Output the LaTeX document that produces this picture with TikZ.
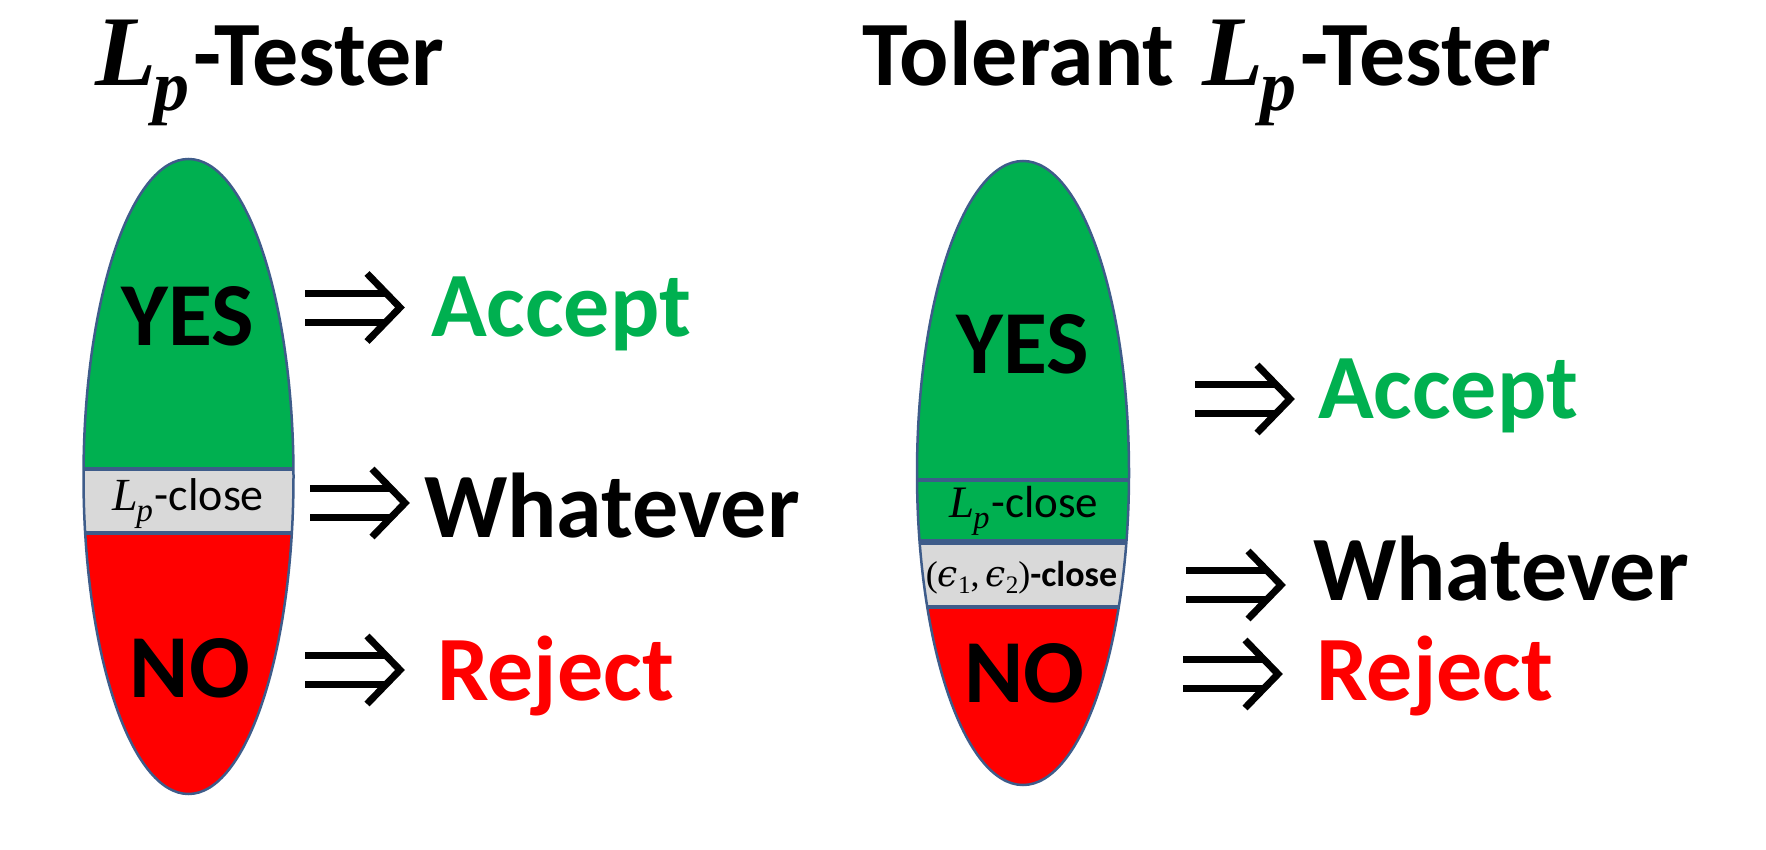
\documentclass[tikz,border=0pt]{standalone}
\usepackage{graphicx}
\usepackage{fontspec}
\setmainfont{Carlito}
\newfontfamily\lpf{Liberation Serif}
\newfontfamily\epf{DejaVu Serif}
\newcommand{\Lp}{{\lpf\itshape L\kern-0.03em\raisebox{-0.25em}{\scalebox{0.72}{p}}\kern0.04em}}
\newcommand{\epsi}[1]{{\epf\itshape ϵ}\raisebox{-0.22em}{\scalebox{0.7}{\lpf #1}}}
\newcommand{\bigLp}{{\fontsize{100}{100}\selectfont\Lp}}
\definecolor{pgreen}{RGB}{0,176,80}
\definecolor{pred}{RGB}{255,0,0}
\definecolor{pgray}{RGB}{217,217,217}
\definecolor{outl}{RGB}{62,92,138}
\tikzset{
  outline/.style={draw=outl, line width=2.5pt},
  sepline/.style={draw=outl, line width=4.5pt},
  big/.style={inner sep=0pt, anchor=base, font=\fontsize{90}{96}\selectfont\bfseries},
  lab/.style={inner sep=0pt, anchor=base west, font=\fontsize{92}{98}\selectfont\bfseries},
  ttl/.style={inner sep=0pt, anchor=base west, font=\fontsize{92}{98}\selectfont\bfseries},
  pics/impl/.style={code={
    \draw[line width=7pt] (0,-14.5) -- (80,-14.5) (0,14.5) -- (80,14.5);
    \draw[line width=7pt, line join=miter] (62,-34) -- (95,0) -- (62,34);
  }}
}
\begin{document}
\begin{tikzpicture}[x=1pt,y=-1pt]
\useasboundingbox (0,0) rectangle (1766,850);
\fill[white] (0,0) rectangle (1766,850);

% titles
\node[ttl] (t1) at (95,86) {\bigLp-Tester};
\node[ttl] (t2) at (862,86) {Tolerant\hspace{0.3em}\bigLp-Tester};

% left ellipse
\begin{scope}
  \clip (188.5,476.5) ellipse [x radius=105pt, y radius=317.5pt];
  \fill[pgreen] (70,150) rectangle (310,470);
  \fill[pred] (70,533) rectangle (310,800);
  \fill[pgray] (70,469) rectangle (310,533);
  \draw[sepline] (70,469) -- (310,469) (70,533) -- (310,533);
\end{scope}
\draw[outline] (188.5,476.5) ellipse [x radius=105pt, y radius=317.5pt];
\node[big] (yes1) at (187.5,345) {YES};
\node[big] (no1) at (190,697) {NO};
\node[inner sep=0pt, anchor=base, font=\fontsize{46}{50}\selectfont] (c1) at (188,510) {\Lp-close};

% right ellipse
\begin{scope}
  \clip (1023,473) ellipse [x radius=106pt, y radius=312pt];
  \fill[pgreen] (900,150) rectangle (1150,607);
  \fill[pred] (900,607) rectangle (1150,800);
  \fill[pgray] (900,542) rectangle (1150,607);
  \draw[sepline] (900,480) -- (1150,480) (900,607) -- (1150,607);
  \draw[draw=outl, line width=6pt] (900,542) -- (1150,542);
\end{scope}
\draw[outline] (1023,473) ellipse [x radius=106pt, y radius=312pt];
\node[big] (yes2) at (1023,373) {YES};
\node[big] (no2) at (1024.5,702) {NO};
\node[inner sep=0pt, anchor=base, font=\fontsize{45}{48}\selectfont] (c2) at (1024,517) {\Lp-close};
\node[inner sep=0pt, anchor=base, font=\fontsize{36}{40}\selectfont] (c3) at (1021.5,586) {{\lpf(}\epsi{1}{\lpf,\,}\epsi{2}{\lpf)}\textbf{-close}};

% arrows
\coordinate (aL1) at (305,307.5);
\coordinate (aL2) at (310,503);
\coordinate (aL3) at (305,670);
\coordinate (aR1) at (1195,399);
\coordinate (aR2) at (1186,585);
\coordinate (aR3) at (1183,674);
\pic at (aL1) {impl};
\pic at (aL2) {impl};
\pic at (aL3) {impl};
\pic at (aR1) {impl};
\pic at (aR2) {impl};
\pic at (aR3) {impl};

% labels
\node[lab, text=pgreen] (accL) at (431,336) {Accept};
\node[lab] (whL) at (424,537) {Whatever};
\node[lab, text=pred] (rejL) at (437,700) {Reject};
\node[lab, text=pgreen] (accR) at (1318,418) {Accept};
\node[lab] (whR) at (1313,600) {Whatever};
\node[lab, text=pred] (rejR) at (1316,700) {Reject};
\end{tikzpicture}
\end{document}
